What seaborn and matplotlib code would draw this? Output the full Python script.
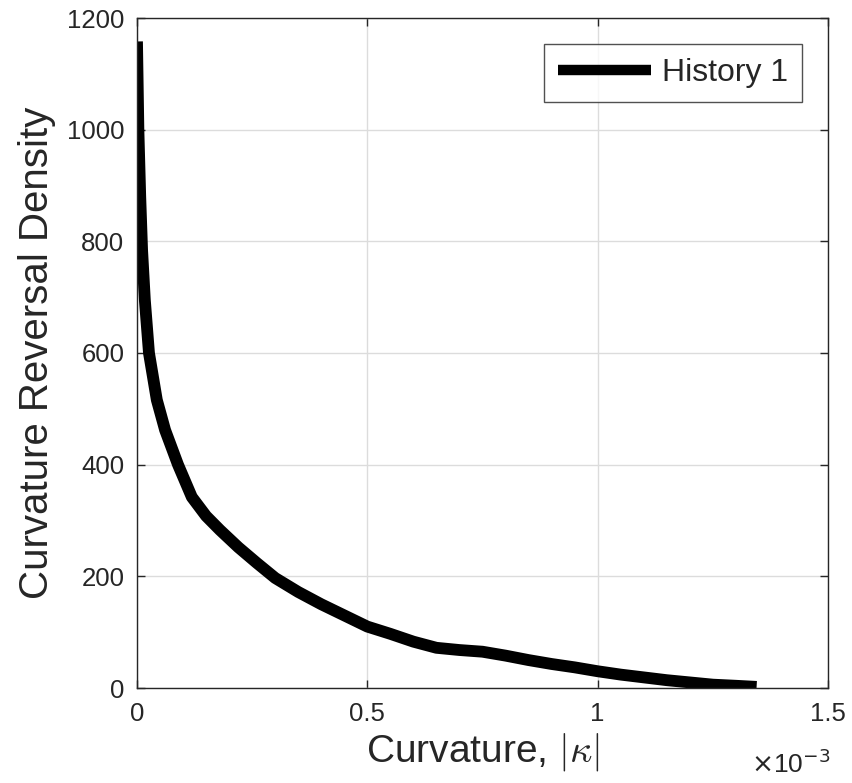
import matplotlib
matplotlib.use("Agg")
import matplotlib.pyplot as plt
import seaborn as sns
import pandas as pd
from matplotlib.ticker import FuncFormatter

# Curvature magnitude (units of 1e-3) and reversal density
curvature_e3 = [0.0, 0.003, 0.007, 0.011, 0.017, 0.026, 0.043, 0.061, 0.089, 0.119,
                0.15, 0.18, 0.22, 0.26, 0.3, 0.35, 0.4, 0.45, 0.5, 0.55,
                0.6, 0.65, 0.7, 0.75, 0.8, 0.85, 0.9, 0.95, 1.0, 1.05,
                1.1, 1.15, 1.2, 1.25, 1.3, 1.345]
density = [1158, 1000, 880, 785, 695, 600, 516, 462, 400, 342,
           308, 283, 252, 224, 197, 172, 150, 130, 110, 97,
           83, 72, 68, 65, 58, 50, 43, 37, 30, 24,
           19, 14, 10, 6, 4, 2]
series_name = "History 1"
x_ticks_e3 = [0, 0.5, 1, 1.5]
y_ticks = [0, 200, 400, 600, 800, 1000, 1200]

df = pd.DataFrame({
    "curvature": [c * 1e-3 for c in curvature_e3],
    "density": density,
    "history": series_name,
})

sns.set_style("white")
plt.rcParams["font.family"] = ["Liberation Sans", "DejaVu Sans"]
plt.rcParams["mathtext.fontset"] = "cm"

txt = "#262626"
fig = plt.figure(figsize=(8.53, 7.83), dpi=100)
ax = fig.add_axes([137 / 853, 1 - 688 / 783, (828 - 137) / 853, (688 - 18) / 783])

sns.lineplot(data=df, x="curvature", y="density", hue="history",
             palette=["black"], sort=False, ax=ax, linewidth=8.5,
             solid_capstyle="butt", solid_joinstyle="round")

ax.set_xlim(0, 1.5e-3)
ax.set_ylim(0, 1200)
ax.set_xticks([v * 1e-3 for v in x_ticks_e3])
ax.set_yticks(y_ticks)
ax.xaxis.set_major_formatter(FuncFormatter(lambda v, p: f"{v * 1e3:g}"))

ax.grid(True, color="#dcdcdc", linewidth=1.0)
ax.set_axisbelow(True)
for s in ax.spines.values():
    s.set_visible(True)
    s.set_color(txt)
    s.set_linewidth(1.0)

ax.tick_params(axis="both", which="both", direction="in", length=6, width=1,
               colors=txt, labelsize=18.5, top=True, right=True, bottom=True, left=True)
ax.tick_params(axis="x", pad=10)
ax.tick_params(axis="y", pad=9)

ax.set_xlabel(r"Curvature, $|\kappa|$", fontsize=28, color=txt, labelpad=4)
ax.set_ylabel("Curvature Reversal Density", fontsize=29, color=txt, labelpad=8)

fig.text(830 / 853, 1 - 773 / 783, r"$\times$10$^{-3}$", fontsize=19, color=txt,
         ha="right", va="baseline", math_fontfamily="dejavusans")

leg = ax.legend(loc="upper right", fontsize=23, frameon=True, fancybox=False,
                handlelength=2.9, handletextpad=0.35, borderaxespad=0.8,
                borderpad=0.45, edgecolor=txt)
leg.get_frame().set_linewidth(1.0)
for h in leg.get_lines():
    h.set_linewidth(7.5)

fig.savefig("out.png", dpi=100, facecolor="white")
